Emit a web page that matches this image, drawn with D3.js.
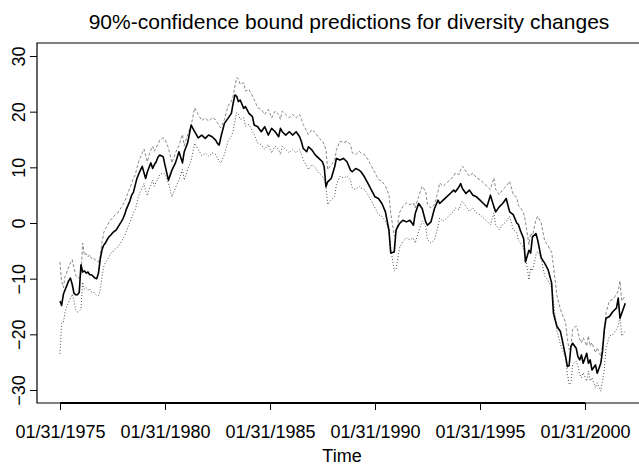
<!DOCTYPE html>
<html>
<head>
<meta charset="utf-8">
<script src="https://cdn.jsdelivr.net/npm/d3@7"></script>
<style>
  body { margin: 0; background: #fff; }
  svg { display: block; font-family: "Liberation Sans", Arial, Helvetica, sans-serif; }
</style>
</head>
<body>
<script>
// Observation months, counted from January 1975 (0 = 01/1975)
const months = [
  0,1,2,3,4,5,6,7,8,9,10,11,12,13,14,15,16,17,18,19,20,21,22,23,24,25,26,27,28,29,
  30,31,32,33,34,35,36,37,38,39,40,41,42,43,44,45,46,47,48,49,50,51,52,53,54,55,56,57,
  59,60,62,64,66,68,70,71,73,75,77,79,81,83,85,87,89,90,91,92,94,96,98,99,100,101,102,103,
  105,106,108,110,111,113,115,117,119,121,123,125,126,127,129,131,133,135,137,138,139,141,
  142,144,146,148,150,151,152,153,155,157,158,160,162,164,166,167,169,171,172,174,176,178,
  180,182,184,186,188,189,191,192,194,196,198,200,202,203,205,207,209,210,212,214,216,217,
  219,221,223,225,226,228,229,230,232,234,236,238,240,242,244,246,248,249,251,253,255,257,
  259,261,262,263,265,266,268,269,270,272,273,275,277,279,281,282,284,286,287,289,290,291,
  292,293,295,296,297,298,299,301,302,303,304,306,307,309,310,311,312,314,316,318,319,320,
  321,323
];

// Diversity change (central prediction)
const central = [
  -14.0,-14.8,-12.8,-12.0,-11.2,-10.4,-9.9,-11.0,-12.6,-12.9,-12.9,-12.5,-7.5,-8.8,-8.6,-9.0,-8.8,-9.3,-9.3,-9.6,-9.9,-10.0,-9.0,-6.5,-4.8,-4.0,-3.6,-3.0,-2.5,-2.2,
  -1.8,-1.5,-1.3,-0.8,-0.3,0.2,0.8,1.5,2.5,3.2,4.0,5.0,5.5,6.8,8.0,8.8,9.5,10.2,9.0,8.0,9.2,10.0,10.8,9.8,10.5,11.0,11.8,12.2,
  11.9,10.4,7.7,9.5,10.8,12.8,10.8,12.8,14.4,17.6,16.4,15.3,15.8,15.2,15.8,15.5,14.9,14.3,14.0,15.5,17.9,18.8,19.7,21.5,23.0,22.8,21.8,22.1,
  20.6,20.9,19.7,19.1,17.6,17.3,16.4,17.3,15.8,17.0,16.4,15.5,17.0,16.4,15.8,16.4,15.8,16.4,15.5,14.6,13.4,12.8,
  13.7,13.1,12.2,11.6,11.0,10.1,6.5,7.4,8.0,10.1,11.6,11.3,11.6,11.0,9.5,9.2,9.8,9.5,9.2,8.3,7.1,5.9,
  4.7,4.4,3.5,2.0,-1.3,-5.4,-5.2,-1.3,-0.1,0.5,0.2,0.5,-0.4,1.7,3.5,2.6,0.2,-0.4,0.2,2.6,4.1,3.5,
  4.1,4.7,5.3,5.9,5.6,6.5,7.1,6.2,5.3,5.9,5.0,4.7,4.1,3.5,2.9,5.0,2.9,2.0,2.9,3.5,4.4,2.0,
  1.5,0.0,-0.3,-1.3,-2.8,-7.0,-4.9,-5.4,-2.5,-1.9,-3.1,-6.3,-7.2,-8.4,-10.8,-16.2,-18.6,-19.5,-21.0,-24.0,-25.8,-25.6,
  -22.2,-21.6,-22.5,-24.0,-24.6,-23.7,-25.2,-23.4,-25.2,-24.6,-26.4,-25.5,-27.0,-25.2,-23.1,-19.2,-17.1,-16.8,-15.9,-15.3,-13.5,-17.1,
  -16.2,-14.4
];

// Upper 90% confidence bound
const upper = [
  -7.0,-10.5,-11.6,-9.6,-8.8,-7.9,-7.2,-6.6,-8.0,-9.4,-9.8,-9.9,-9.3,-3.6,-5.8,-5.5,-6.1,-5.7,-6.4,-6.2,-6.6,-6.8,-7.0,-5.9,-3.4,-1.8,-1.0,-0.5,0.1,0.6,
  0.8,1.3,1.6,1.8,2.3,2.8,3.3,3.9,4.6,5.6,6.3,7.1,8.1,8.6,9.9,11.1,11.8,12.6,13.3,12.1,11.0,12.3,13.1,13.8,12.9,13.6,14.1,14.9,
  15.3,15.0,13.5,10.8,12.6,13.9,15.9,13.9,15.9,17.5,20.7,19.5,18.4,18.9,18.3,18.9,18.6,18.0,17.4,17.1,18.6,21.0,21.9,22.8,24.6,26.1,25.9,24.9,
  25.2,23.7,24.0,22.8,22.2,20.7,20.4,19.5,20.4,18.9,20.1,19.5,18.6,20.1,19.5,18.9,19.5,18.9,19.5,18.6,17.7,16.5,
  15.9,16.8,16.2,15.3,14.7,14.1,13.2,9.6,10.5,11.1,13.2,14.7,14.4,14.7,14.1,12.6,12.3,12.9,12.6,12.3,11.4,10.2,
  9.0,7.8,7.5,6.6,5.1,1.8,-2.3,-2.1,1.8,3.0,3.6,3.3,3.6,2.7,4.8,6.6,5.7,3.3,2.7,3.3,5.7,7.2,
  6.6,7.2,7.8,8.4,9.0,8.7,9.6,10.2,9.3,8.4,9.0,8.1,7.8,7.2,6.6,6.0,8.1,6.0,5.1,6.0,6.6,7.5,
  5.1,4.6,3.1,2.8,1.8,0.3,-3.9,-1.8,-2.3,0.6,1.2,0.0,-3.2,-4.1,-5.3,-7.7,-13.1,-15.5,-16.4,-17.9,-20.9,-22.7,
  -22.5,-19.1,-18.5,-19.4,-20.9,-21.5,-20.6,-22.1,-20.3,-22.1,-21.5,-23.3,-22.4,-23.9,-22.1,-20.0,-16.1,-14.0,-13.7,-12.8,-12.2,-10.4,
  -14.0,-13.1
];

// Lower 90% confidence bound
const lower = [
  -23.5,-18.0,-17.9,-15.9,-15.0,-14.3,-13.5,-12.8,-13.9,-15.6,-16.0,-15.8,-15.5,-10.6,-11.9,-11.6,-12.1,-11.8,-12.4,-12.3,-12.7,-13.0,-13.1,-12.0,-9.6,-7.9,-7.1,-6.7,-6.1,-5.5,
  -5.3,-4.8,-4.6,-4.3,-3.9,-3.4,-2.8,-2.3,-1.5,-0.6,0.1,0.9,1.8,2.4,3.6,4.9,5.7,6.3,7.1,5.8,4.9,6.0,6.8,7.7,6.6,7.4,7.9,8.7,
  9.0,8.8,7.2,4.7,6.3,7.7,9.6,7.7,9.6,11.2,14.3,13.2,12.1,12.6,12.0,12.6,12.3,11.7,11.1,10.8,12.3,14.7,15.6,16.5,18.3,19.8,19.6,18.6,
  18.9,17.4,17.7,16.5,15.9,14.4,14.1,13.2,14.1,12.6,13.8,13.2,12.3,13.8,13.2,12.6,13.2,12.6,13.2,12.3,11.4,10.2,
  9.6,10.5,9.9,9.0,8.4,7.8,6.9,3.3,4.2,4.8,6.9,8.4,8.1,8.4,7.8,6.3,6.0,6.6,6.3,6.0,5.1,3.9,
  2.7,1.5,1.2,0.3,-1.2,-4.5,-8.6,-8.4,-4.5,-3.3,-2.7,-3.0,-2.7,-3.6,-1.5,0.3,-0.6,-3.0,-3.6,-3.0,-0.6,0.9,
  0.3,0.9,1.5,2.1,2.7,2.4,3.3,3.9,3.0,2.1,2.7,1.8,1.5,0.9,0.3,-0.3,1.8,-0.3,-1.2,-0.3,0.3,1.2,
  -1.2,-1.7,-3.2,-3.5,-4.5,-6.0,-10.2,-8.1,-8.6,-5.7,-5.1,-6.3,-9.5,-10.4,-11.6,-14.0,-19.4,-21.8,-22.7,-24.2,-27.2,-29.0,
  -28.8,-25.4,-24.8,-25.7,-27.2,-27.8,-26.9,-28.4,-26.6,-28.4,-27.8,-29.6,-28.7,-30.2,-28.4,-26.3,-22.4,-20.3,-20.0,-19.1,-18.5,-16.7,
  -20.3,-19.4
];

const yTicks = [-30, -20, -10, 0, 10, 20, 30];
const xTickYears = [1975, 1980, 1985, 1990, 1995, 2000];
const xTickLabels = ["01/31/1975", "01/31/1980", "01/31/1985", "01/31/1990", "01/31/1995", "01/31/2000"];
const titleText = "90%-confidence bound predictions for diversity changes";
const xAxisTitle = "Time";

const W = 639, H = 467;
const box = { left: 37, top: 43, right: 662, bottom: 403 };

const svg = d3.select("body").append("svg")
  .attr("width", W).attr("height", H);

// month index -> last day of that month
const monthDate = m => new Date(1975, m + 1, 0);

const x = d3.scaleTime()
  .domain([new Date(1975, 0, 31), new Date(2000, 0, 31)])
  .range([60, 585]);
const y = d3.scaleLinear()
  .domain([-30, 30])
  .range([390, 56]);

// plot frame (right side runs past the page edge)
svg.append("path")
  .attr("d", `M${box.right},${box.top}H${box.left}V${box.bottom}H${box.right}`)
  .attr("fill", "none").attr("stroke", "#000").attr("stroke-width", 1.2);

// series
const rows = months.map((m, i) => ({ date: monthDate(m), c: central[i], u: upper[i], l: lower[i] }));
const lineOf = key => d3.line().x(d => x(d.date)).y(d => y(d[key]));

svg.append("path").datum(rows)
  .attr("d", lineOf("u"))
  .attr("fill", "none").attr("stroke", "#6a6a6a")
  .attr("stroke-width", 0.8).attr("stroke-dasharray", "3,2");
svg.append("path").datum(rows)
  .attr("d", lineOf("l"))
  .attr("fill", "none").attr("stroke", "#222")
  .attr("stroke-width", 0.8).attr("stroke-dasharray", "1,2");
svg.append("path").datum(rows)
  .attr("d", lineOf("c"))
  .attr("fill", "none").attr("stroke", "#000")
  .attr("stroke-width", 1.6).attr("stroke-linejoin", "round");

// y axis
const yAxis = svg.append("g")
  .attr("transform", `translate(${box.left},0)`)
  .call(d3.axisLeft(y).tickValues(yTicks).tickSize(7).tickFormat(d3.format("d")));
yAxis.select(".domain").remove();
yAxis.selectAll(".tick line").attr("stroke", "#000").attr("stroke-width", 1);
yAxis.selectAll(".tick text")
  .attr("x", null).attr("dy", null)
  .attr("transform", "translate(-12,0) rotate(-90)")
  .attr("text-anchor", "middle")
  .attr("font-size", 18).attr("fill", "#000")
  .style("font-family", "'Liberation Sans', Arial, sans-serif");

// x axis
const xDates = xTickYears.map(yr => new Date(yr, 0, 31));
const xAxis = svg.append("g")
  .attr("transform", `translate(0,${box.bottom})`)
  .call(d3.axisBottom(x).tickValues(xDates).tickSize(7)
    .tickFormat((d, i) => xTickLabels[i]));
xAxis.select(".domain").remove();
xAxis.append("line")
  .attr("x1", x(xDates[0])).attr("x2", x(xDates[xDates.length - 1]))
  .attr("y1", 0).attr("y2", 0)
  .attr("stroke", "#000").attr("stroke-width", 2.2);
xAxis.selectAll(".tick line").attr("stroke", "#000").attr("stroke-width", 1);
xAxis.selectAll(".tick text")
  .attr("y", 35).attr("dy", null)
  .attr("font-size", 18).attr("fill", "#000")
  .style("font-family", "'Liberation Sans', Arial, sans-serif");

// titles
svg.append("text")
  .attr("x", 349).attr("y", 29)
  .attr("text-anchor", "middle")
  .attr("font-size", 21)
  .text(titleText);
svg.append("text")
  .attr("x", 342).attr("y", 462)
  .attr("text-anchor", "middle")
  .attr("font-size", 18)
  .text(xAxisTitle);
</script>
</body>
</html>
